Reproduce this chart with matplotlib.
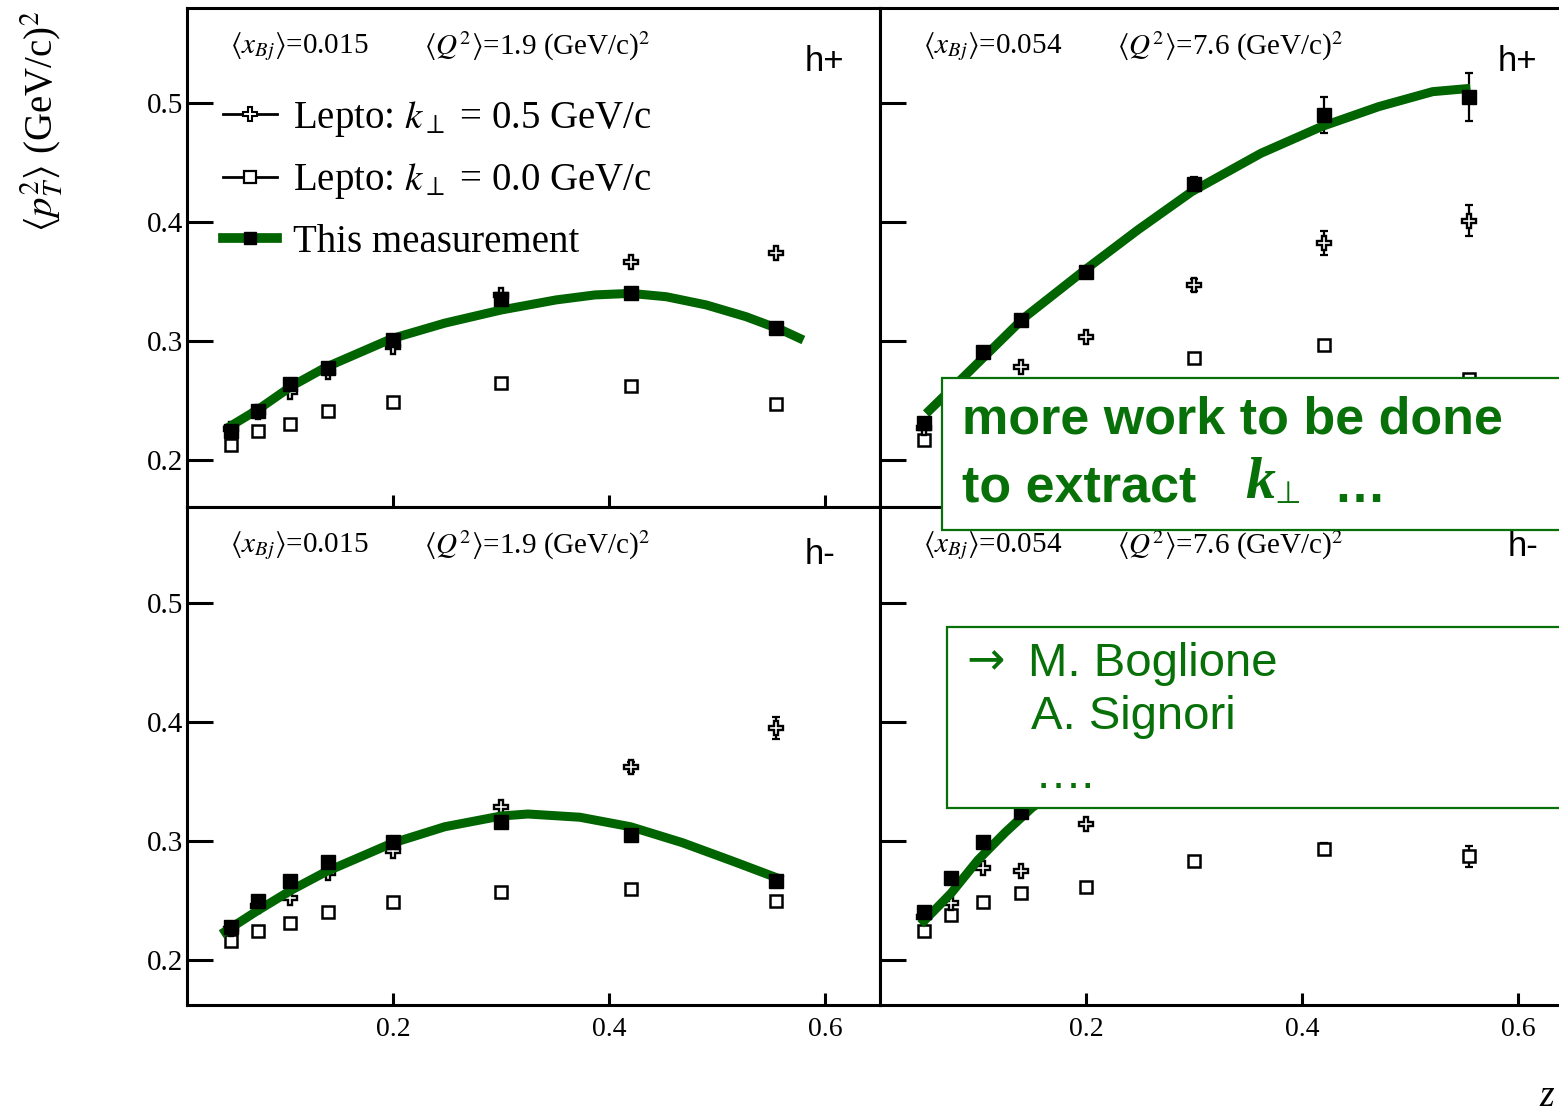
import matplotlib
matplotlib.use("Agg")
import matplotlib.pyplot as plt
from matplotlib.lines import Line2D
from matplotlib.patches import Rectangle

plt.rcParams["font.family"] = ["Liberation Serif", "DejaVu Serif"]
plt.rcParams["mathtext.fontset"] = "stix"

GREEN = "#006400"
BOX_GREEN = "#087008"

z = [0.05, 0.075, 0.105, 0.14, 0.2, 0.3, 0.42, 0.555]

# h+, <x_Bj> = 0.015
meas_hp_015 = [0.224, 0.241, 0.264, 0.277, 0.301, 0.335, 0.340, 0.311]
k05_hp_015 = [0.226, 0.240, 0.257, 0.274, 0.295, 0.339, 0.366, 0.374]
k00_hp_015 = [0.213, 0.224, 0.230, 0.241, 0.249, 0.265, 0.262, 0.247]
fit_z_hp_015 = [0.045, 0.076, 0.106, 0.138, 0.199, 0.248, 0.300, 0.351,
                0.387, 0.420, 0.453, 0.490, 0.527, 0.560, 0.580]
fit_hp_015 = [0.226, 0.243, 0.262, 0.278, 0.302, 0.315, 0.326, 0.3345,
              0.3387, 0.340, 0.3372, 0.3303, 0.3204, 0.3092, 0.3008]

# h+, <x_Bj> = 0.054
meas_hp_054 = [0.231, 0.258, 0.291, 0.318, 0.358, 0.432, 0.490, 0.505]
k05_hp_054 = [0.227, 0.245, 0.262, 0.278, 0.303, 0.347, 0.382, 0.401]
k00_hp_054 = [0.217, 0.228, 0.238, 0.245, 0.255, 0.286, 0.297, 0.268]
fit_z_hp_054 = [0.052, 0.087, 0.142, 0.199, 0.248, 0.298, 0.362, 0.418,
                0.471, 0.521, 0.556]
fit_hp_054 = [0.239, 0.270, 0.319, 0.3597, 0.3933, 0.4255, 0.4577, 0.4801,
              0.4969, 0.5095, 0.5123]

# h-, <x_Bj> = 0.015
meas_hm_015 = [0.228, 0.250, 0.266, 0.282, 0.299, 0.316, 0.305, 0.266]
k05_hm_015 = [0.226, 0.245, 0.252, 0.273, 0.292, 0.329, 0.362, 0.395]
k00_hm_015 = [0.216, 0.224, 0.231, 0.240, 0.249, 0.257, 0.260, 0.250]
fit_z_hm_015 = [0.041, 0.073, 0.106, 0.138, 0.199, 0.248, 0.300, 0.325,
                0.373, 0.420, 0.468, 0.516, 0.561]
fit_hm_015 = [0.2218, 0.2406, 0.2588, 0.2742, 0.2981, 0.312, 0.321, 0.3227,
              0.320, 0.312, 0.2986, 0.2826, 0.2672]

# h-, <x_Bj> = 0.054
meas_hm_054 = [0.240, 0.269, 0.299, 0.324, 0.360, 0.380, 0.400, 0.410]
k05_hm_054 = [0.236, 0.248, 0.277, 0.275, 0.314, 0.350, 0.380, 0.400]
k00_hm_054 = [0.224, 0.238, 0.249, 0.256, 0.261, 0.283, 0.293, 0.287]
fit_z_hm_054 = [0.047, 0.075, 0.1, 0.125, 0.15, 0.2, 0.3, 0.4, 0.5, 0.555]
fit_hm_054 = [0.230, 0.256, 0.284, 0.307, 0.328, 0.360, 0.400, 0.420, 0.430, 0.430]

# statistical errors (only the visible ones are non-negligible)
err_meas_hp_054 = [0, 0, 0, 0, 0, 0.006, 0.015, 0.020]
err_k05_hp_054 = [0, 0, 0, 0, 0, 0.005, 0.010, 0.013]
err_k05_hm_015 = [0, 0, 0, 0, 0, 0, 0.004, 0.009]
err_k00_hm_054 = [0, 0, 0, 0, 0, 0, 0.005, 0.009]
no_err = [0] * 8

xbj_text = [r"$\langle x_{Bj}\rangle$=0.015", r"$\langle x_{Bj}\rangle$=0.054"]
q2_text = [r"$\langle Q^2\rangle$=1.9 (GeV/c)$^2$", r"$\langle Q^2\rangle$=7.6 (GeV/c)$^2$"]

W, H = 1559, 1113
fig = plt.figure(figsize=(W / 100, H / 100), dpi=100)


def frac_box(x0, y0, x1, y1):
    return [x0 / W, 1 - y1 / H, (x1 - x0) / W, (y1 - y0) / H]


ax_tl = fig.add_axes(frac_box(187, 8, 880, 507))
ax_tr = fig.add_axes(frac_box(880, 8, 1559, 507))
ax_bl = fig.add_axes(frac_box(187, 507, 880, 1005))
ax_br = fig.add_axes(frac_box(880, 507, 1559, 1005))

panels = [
    (ax_tl, meas_hp_015, k05_hp_015, k00_hp_015, fit_z_hp_015, fit_hp_015,
     no_err, no_err, no_err, 0, "h+"),
    (ax_tr, meas_hp_054, k05_hp_054, k00_hp_054, fit_z_hp_054, fit_hp_054,
     err_meas_hp_054, err_k05_hp_054, no_err, 1, "h+"),
    (ax_bl, meas_hm_015, k05_hm_015, k00_hm_015, fit_z_hm_015, fit_hm_015,
     no_err, err_k05_hm_015, no_err, 0, "h-"),
    (ax_br, meas_hm_054, k05_hm_054, k00_hm_054, fit_z_hm_054, fit_hm_054,
     no_err, no_err, err_k00_hm_054, 1, "h-"),
]

for ax, meas, k05, k00, fz, fv, e_m, e_5, e_0, col, hlabel in panels:
    top = ax in (ax_tl, ax_tr)
    left = ax in (ax_tl, ax_bl)

    for vals, err in ((meas, e_m), (k05, e_5), (k00, e_0)):
        ax.errorbar(z, vals, yerr=err, fmt="none", ecolor="k",
                    elinewidth=1.6, capsize=3, capthick=1.6, zorder=2)
    ax.plot(z, k00, ls="none", marker="s", ms=8.5, mfc="white", mec="k",
            mew=1.8, zorder=3)
    ax.plot(z, k05, ls="none", marker="P", ms=10.5, mfc="white", mec="k",
            mew=1.7, zorder=3)
    ax.plot(fz, fv, color=GREEN, lw=6.5, solid_capstyle="butt",
            solid_joinstyle="round", zorder=4)
    ax.plot(z, meas, ls="none", marker="s", ms=10, color="k", zorder=5)

    ax.set_xlim(0.0093, 0.0093 + (ax.bbox.width / 1080))
    if top:
        ax.set_ylim(0.1605, 0.5798)
    else:
        ax.set_ylim(0.1622, 0.5807)
    ax.set_xticks([0.2, 0.4, 0.6])
    ax.set_yticks([0.2, 0.3, 0.4, 0.5])
    ax.tick_params(axis="y", direction="in", length=19, width=2.2,
                   labelsize=21, pad=3, labelleft=left)
    ax.tick_params(axis="x", direction="in", length=9, width=2.2,
                   labelsize=20, pad=9, labelbottom=not top)
    ax.set_yticklabels(["0.2", "0.3", "0.4", "0.5"])
    ax.set_xticklabels(["0.2", "0.4", "0.6"])
    for side in ("left", "bottom", "top", "right"):
        ax.spines[side].set_linewidth(2.2)
    if col == 1:
        ax.spines["right"].set_visible(False)

    # kinematics header
    ax_w = ax.bbox.width
    ax.text(43 / ax_w, 0.923, xbj_text[col], transform=ax.transAxes,
            fontsize=21, va="center", ha="left")
    ax.text(237 / ax_w, 0.923, q2_text[col], transform=ax.transAxes,
            fontsize=21, va="center", ha="left")
    hx = 805 - 187 if col == 0 else (1498 - 880 if top else 1508 - 880)
    hy = 0.892 if top else (0.904 if col == 0 else 0.92)
    ax.text(hx / ax_w, hy, hlabel, transform=ax.transAxes, fontsize=25,
            family=["Liberation Sans", "DejaVu Sans"], va="center", ha="left")

handles = [
    Line2D([], [], color="k", lw=2, marker="P", ms=10, mfc="white", mec="k", mew=1.5),
    Line2D([], [], color="k", lw=2, marker="s", ms=8, mfc="white", mec="k", mew=1.6),
    Line2D([], [], color=GREEN, lw=7, marker="s", ms=9, mfc="k", mec="k"),
]
labels = [r"Lepto: $k_\perp$ = 0.5 GeV/c", r"Lepto: $k_\perp$ = 0.0 GeV/c",
          "This measurement"]
ax_tl.legend(handles, labels, loc="upper left", bbox_to_anchor=(0.052, 0.818),
             frameon=False, fontsize=28, handlelength=1.4, handletextpad=0.4,
             labelspacing=0.58, borderaxespad=0, borderpad=0)

fig.text(42 / W, 1 - 122 / H, r"$\langle p_T^2\rangle$ (GeV/c)$^2$",
         rotation=90, ha="center", va="center", fontsize=28)
fig.text(1547 / W, 1 - 1097 / H, "z", style="italic", ha="center",
         va="center", fontsize=27)

# comment boxes
fig.add_artist(Rectangle((942 / W, 1 - 530 / H), 0.5, 152 / H,
                         transform=fig.transFigure, facecolor="white",
                         edgecolor=BOX_GREEN, lw=1.6, zorder=10))
fig.add_artist(Rectangle((947 / W, 1 - 808 / H), 0.5, 181 / H,
                         transform=fig.transFigure, facecolor="white",
                         edgecolor=BOX_GREEN, lw=1.6, zorder=10))

sans = ["Liberation Sans", "DejaVu Sans"]
fig.text(962 / W, 1 - 420 / H, "more work to be done", color=BOX_GREEN,
         fontsize=37.5, weight="bold", family=sans, va="center", zorder=11)
fig.text(962 / W, 1 - 488 / H, "to extract", color=BOX_GREEN,
         fontsize=37.5, weight="bold", family=sans, va="center", zorder=11)
fig.text(1245 / W, 1 - 484 / H, "k", color=BOX_GREEN, fontsize=43,
         weight="bold", style="italic", family=["Liberation Serif"],
         va="center", zorder=11)
fig.text(1274 / W, 1 - 495 / H, "\u22a5", color=BOX_GREEN, fontsize=22,
         family=sans, va="center", zorder=11)
fig.text(1333 / W, 1 - 488 / H, "\u2026", color=BOX_GREEN, fontsize=37.5,
         weight="bold", family=sans, va="center", zorder=11)

fig.text(966 / W, 1 - 662 / H, "\u2192", color=BOX_GREEN, fontsize=33,
         family=["DejaVu Sans"], va="center", zorder=11)
fig.text(1028 / W, 1 - 664 / H, "M. Boglione", color=BOX_GREEN,
         fontsize=34, family=sans, va="center", zorder=11)
fig.text(1031 / W, 1 - 717 / H, "A. Signori", color=BOX_GREEN,
         fontsize=34, family=sans, va="center", zorder=11)
fig.text(1035 / W, 1 - 776 / H, "\u2026.", color=BOX_GREEN,
         fontsize=34, family=sans, va="center", zorder=11)

fig.savefig("out.png", dpi=100)
